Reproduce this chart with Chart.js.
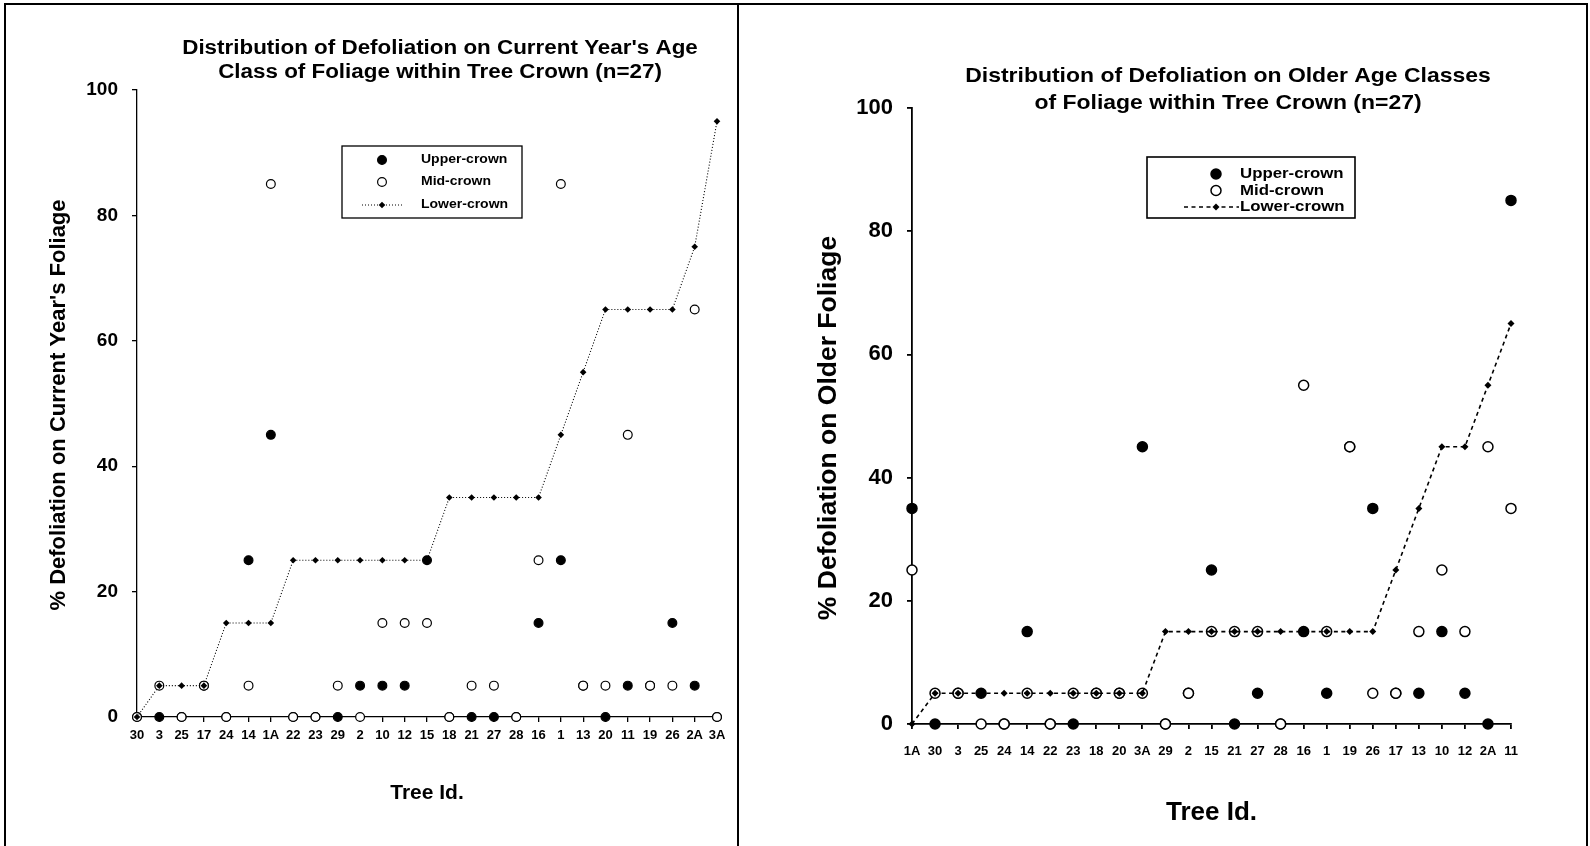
<!DOCTYPE html>
<html>
<head>
<meta charset="utf-8">
<title>Distribution of Defoliation within Tree Crown</title>
<script src="https://cdn.jsdelivr.net/npm/chart.js@4.4.1/dist/chart.umd.min.js"></script>
<style>
  html, body { margin: 0; padding: 0; background: #fff; }
  #page { position: relative; width: 1590px; height: 846px; overflow: hidden; background: #fff; }
  canvas { position: absolute; top: 0; }
  #current { left: 0; }
  #older { left: 739px; }
  .rule { position: absolute; background: #000; }
</style>
</head>
<body>
<div id="page">
  <canvas id="current" width="737" height="846"></canvas>
  <canvas id="older" width="851" height="846"></canvas>
  <div class="rule" style="left:4px;top:3px;width:1584px;height:2px"></div>
  <div class="rule" style="left:4px;top:3px;width:2px;height:843px"></div>
  <div class="rule" style="left:737px;top:3px;width:2px;height:843px"></div>
  <div class="rule" style="left:1586px;top:3px;width:2px;height:843px"></div>
</div>
<script>
// ---- data: current year's foliage ----
const currentTrees = ['30','3','25','17','24','14','1A','22','23','29','2','10','12','15','18','21','27','28','16','1','13','20','11','19','26','2A','3A'];
const currentUpper = [0,0,0,5,0,25,45,0,0,0,5,5,5,25,0,0,0,0,15,25,5,0,5,5,15,5,0];
const currentMid   = [0,5,0,5,0,5,85,0,0,5,0,15,15,15,0,5,5,0,25,85,5,5,45,5,5,65,0];
const currentLower = [0,5,5,5,15,15,15,25,25,25,25,25,25,25,35,35,35,35,35,45,55,65,65,65,65,75,95];

// ---- data: older age classes ----
const olderTrees = ['1A','30','3','25','24','14','22','23','18','20','3A','29','2','15','21','27','28','16','1','19','26','17','13','10','12','2A','11'];
const olderUpper = [35,0,5,5,0,15,0,0,5,5,45,0,5,25,0,5,0,15,5,45,35,5,5,15,5,0,85];
const olderMid   = [25,5,5,0,0,5,0,5,5,5,5,0,5,15,15,15,0,55,15,45,5,5,15,25,15,45,35];
const olderLower = [0,5,5,5,5,5,5,5,5,5,5,15,15,15,15,15,15,15,15,15,15,25,35,45,45,55,65];

const seriesNames = ['Upper-crown', 'Mid-crown', 'Lower-crown'];
const yTicks = [0, 20, 40, 60, 80, 100];
const xAxisTitle = 'Tree Id.';

const FONT = "'Liberation Sans', Arial, Helvetica, sans-serif";

// text drawn with a slight horizontal stretch, like the original figure
function stretchText(ctx, text, x, y, size, sx, align, angle) {
  ctx.save();
  ctx.font = 'bold ' + size + 'px ' + FONT;
  ctx.textBaseline = 'middle';
  ctx.textAlign = align;
  ctx.translate(x, y);
  if (angle) ctx.rotate(angle);
  ctx.scale(sx, 1);
  ctx.fillStyle = '#000';
  ctx.fillText(text, 0, 0);
  ctx.restore();
}

// chart heading, vertical axis caption and boxed legend
const panelDecor = {
  id: 'panelDecor',
  afterDraw(chart, args, o) {
    const ctx = chart.ctx;
    o.title.forEach((line, i) => stretchText(ctx, line, o.titleX, o.titleY[i], o.titleSize, o.stretch, 'center'));
    const yt = o.yTitle;
    stretchText(ctx, yt.text, yt.x, yt.y, yt.size, 1, 'center', -Math.PI / 2);

    const L = o.legend;
    ctx.save();
    ctx.strokeStyle = '#000';
    ctx.lineWidth = L.frame;
    ctx.strokeRect(L.x, L.y, L.w, L.h);
    chart.data.datasets.forEach((ds, i) => {
      const y = L.rows[i];
      if (ds.showLine) {
        ctx.save();
        ctx.setLineDash(ds.borderDash);
        ctx.lineWidth = ds.borderWidth;
        ctx.beginPath();
        ctx.moveTo(L.lineX0, y);
        ctx.lineTo(L.lineX1, y);
        ctx.stroke();
        ctx.restore();
        const r = ds.pointRadius;
        ctx.beginPath();
        ctx.moveTo(L.markX, y - r);
        ctx.lineTo(L.markX + r, y);
        ctx.lineTo(L.markX, y + r);
        ctx.lineTo(L.markX - r, y);
        ctx.closePath();
        ctx.fillStyle = '#000';
        ctx.fill();
      } else {
        ctx.beginPath();
        ctx.arc(L.markX, y, ds.pointRadius, 0, Math.PI * 2);
        ctx.fillStyle = ds.pointBackgroundColor;
        ctx.fill();
        ctx.lineWidth = ds.pointBorderWidth;
        ctx.strokeStyle = '#000';
        ctx.stroke();
      }
      stretchText(ctx, ds.label, L.textX, y, L.size, o.stretch, 'left');
    });
    ctx.restore();
  }
};

function makeChart(id, trees, upper, mid, lower, look) {
  const pointSet = (label, values, fill, order) => ({
    label, data: values, order, clip: false, showLine: false,
    pointStyle: 'circle', pointRadius: look.r, pointHoverRadius: look.r,
    pointBackgroundColor: fill, pointBorderColor: '#000', pointBorderWidth: look.bw,
    borderColor: '#000', backgroundColor: fill
  });
  const axisFont = (size) => ({ family: FONT, size, weight: 'bold' });
  return new Chart(document.getElementById(id), {
    type: 'line',
    data: {
      labels: trees,
      datasets: [
        pointSet(seriesNames[0], upper, '#000', 2),
        pointSet(seriesNames[1], mid, '#fff', 1),
        {
          label: seriesNames[2], data: lower, order: 0, clip: false, showLine: true,
          borderColor: '#000', borderWidth: look.lw, borderDash: look.dash, tension: 0, fill: false,
          pointStyle: 'rectRot', pointRadius: look.dr, pointHoverRadius: look.dr,
          pointBackgroundColor: '#000', pointBorderColor: '#000', pointBorderWidth: 0,
          backgroundColor: '#000'
        }
      ]
    },
    options: {
      responsive: false,
      animation: false,
      events: [],
      layout: { padding: look.pad },
      plugins: {
        legend: { display: false },
        tooltip: { enabled: false },
        title: { display: false },
        panelDecor: look.decor
      },
      scales: {
        x: {
          type: 'category', position: 'bottom', offset: false,
          grid: { drawOnChartArea: false, drawTicks: true, tickLength: 5, color: '#000', lineWidth: look.axisW, offset: false },
          border: { display: true, color: '#000', width: look.axisW },
          ticks: { autoSkip: false, maxRotation: 0, minRotation: 0, color: '#000', padding: look.xTickPad, font: axisFont(13) },
          title: { display: true, text: xAxisTitle, color: '#000', font: axisFont(look.xTitleSize), padding: { top: 0, bottom: look.xTitlePad } },
          afterFit: s => { s.height = look.xH; }
        },
        y: {
          type: 'linear', position: 'left', min: 0, max: 100,
          afterBuildTicks: s => { s.ticks = yTicks.map(v => ({ value: v })); },
          grid: { drawOnChartArea: false, drawTicks: true, tickLength: 5, color: '#000', lineWidth: look.axisW },
          border: { display: true, color: '#000', width: look.axisW },
          ticks: { color: '#000', padding: 14, font: axisFont(look.yTickSize) },
          afterFit: s => { s.width = look.yW; }
        }
      }
    },
    plugins: [panelDecor]
  });
}

makeChart('current', currentTrees, currentUpper, currentMid, currentLower, {
  pad: { left: 0, top: 90, right: 20, bottom: 29 },
  r: 4.4, bw: 1.2, dr: 3.3, lw: 1.1, dash: [1, 2], axisW: 1.3,
  xH: 100, xTickPad: 6, xTitleSize: 21, xTitlePad: 11.5,
  yW: 137, yTickSize: 19,
  decor: {
    title: ["Distribution of Defoliation on Current Year's Age", 'Class of Foliage within Tree Crown (n=27)'],
    titleX: 440, titleY: [48.5, 72], titleSize: 20, stretch: 1.12,
    yTitle: { text: "% Defoliation on Current Year's Foliage", x: 59, y: 405, size: 22 },
    legend: { x: 342, y: 146, w: 180, h: 72, frame: 1.3, rows: [160, 182, 205],
              markX: 382, lineX0: 362, lineX1: 402, textX: 421, size: 12.5 }
  }
});

makeChart('older', olderTrees, olderUpper, olderMid, olderLower, {
  pad: { left: 0, top: 108, right: 79, bottom: 12 },
  r: 5, bw: 1.5, dr: 3.5, lw: 1.6, dash: [4, 3.5], axisW: 1.8,
  xH: 110, xTickPad: 15, xTitleSize: 26, xTitlePad: 5.5,
  yW: 173, yTickSize: 22,
  decor: {
    title: ['Distribution of Defoliation on Older Age Classes', 'of Foliage within Tree Crown (n=27)'],
    titleX: 489, titleY: [76, 103], titleSize: 20.5, stretch: 1.12,
    yTitle: { text: '% Defoliation on Older Foliage', x: 89.5, y: 428, size: 26.5 },
    legend: { x: 408, y: 157, w: 208, h: 61, frame: 1.6, rows: [174, 190.5, 207],
              markX: 477, lineX0: 445, lineX1: 500, textX: 501, size: 15 }
  }
});
</script>
</body>
</html>
